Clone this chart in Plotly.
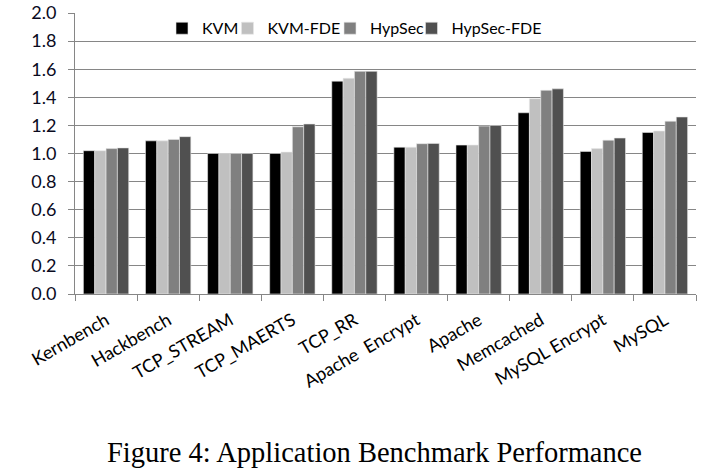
import plotly.graph_objects as go

categories = ["Kernbench", "Hackbench", "TCP_STREAM", "TCP_MAERTS", "TCP_RR",
              "Apache  Encrypt", "Apache", "Memcached", "MySQL Encrypt", "MySQL"]
kvm = [1.02, 1.09, 1.00, 1.00, 1.515, 1.045, 1.06, 1.29, 1.015, 1.15]
kvm_fde = [1.02, 1.09, 1.00, 1.01, 1.535, 1.045, 1.06, 1.39, 1.035, 1.16]
hypsec = [1.035, 1.10, 1.00, 1.19, 1.585, 1.07, 1.195, 1.45, 1.095, 1.23]
hypsec_fde = [1.04, 1.12, 1.00, 1.21, 1.585, 1.072, 1.20, 1.46, 1.11, 1.26]
series_names = ["KVM", "KVM-FDE", "HypSec", "HypSec-FDE"]
series_colors = ["#000000", "#c0c0c0", "#808080", "#505050"]
y_ticks = [0.0, 0.2, 0.4, 0.6, 0.8, 1.0, 1.2, 1.4, 1.6, 1.8, 2.0]

font_family = "Lato, 'Open Sans', sans-serif"
W, H = 711, 476
ML, MR, MT, MB = 75, 15, 13, 182
PW = W - ML - MR
legend_ids = ["legend", "legend2", "legend3", "legend4"]
legend_left_px = [162, 227.5, 330, 411.5]

fig = go.Figure()
for name, vals, col, lid in zip(series_names, [kvm, kvm_fde, hypsec, hypsec_fde],
                                series_colors, legend_ids):
    fig.add_trace(go.Bar(
        x=categories, y=vals, name=name, legend=lid,
        marker=dict(color=col, line=dict(color="#e8e8e8", width=0.6)),
    ))

legend_layouts = {}
for lid, lx in zip(legend_ids, legend_left_px):
    legend_layouts[lid] = dict(
        orientation="h", x=(lx - ML) / PW, y=1.006,
        xanchor="left", yanchor="top",
        font=dict(size=16, color="#000000"), bgcolor="rgba(0,0,0,0)",
        itemwidth=30, borderwidth=0,
    )

fig.update_layout(
    width=W, height=H,
    margin=dict(l=ML, r=MR, t=MT, b=MB, autoexpand=False),
    paper_bgcolor="white", plot_bgcolor="white",
    barmode="group", bargap=0.27, bargroupgap=0,
    font=dict(family=font_family, size=17, color="#000000"),
    showlegend=True,
    **legend_layouts,
)
fig.update_xaxes(
    type="category", tickangle=-30, tickson="boundaries",
    ticks="outside", ticklen=6, tickcolor="#868686", tickwidth=1,
    showline=True, linecolor="#868686", linewidth=1,
    showgrid=False, tickfont=dict(size=18, color="#000000"),
    ticklabelstandoff=8,
)
fig.update_yaxes(
    range=[0, 2.0], tickvals=y_ticks, ticktext=[f"{v:.1f}" for v in y_ticks],
    ticks="outside", ticklen=6, tickcolor="#868686",
    showline=True, linecolor="#868686", linewidth=1,
    showgrid=True, gridcolor="#868686", gridwidth=1,
    zeroline=False, tickfont=dict(size=18, color="#0a0a1e"),
    ticklabelstandoff=8,
)
fig.add_annotation(
    text="Figure 4: Application Benchmark Performance",
    xref="paper", yref="paper", x=0.483, y=-0.564, xanchor="center", yanchor="middle",
    showarrow=False, font=dict(family="'Liberation Serif', 'Times New Roman', serif", size=28.5, color="#000000"),
)
fig.write_html("out.html")
